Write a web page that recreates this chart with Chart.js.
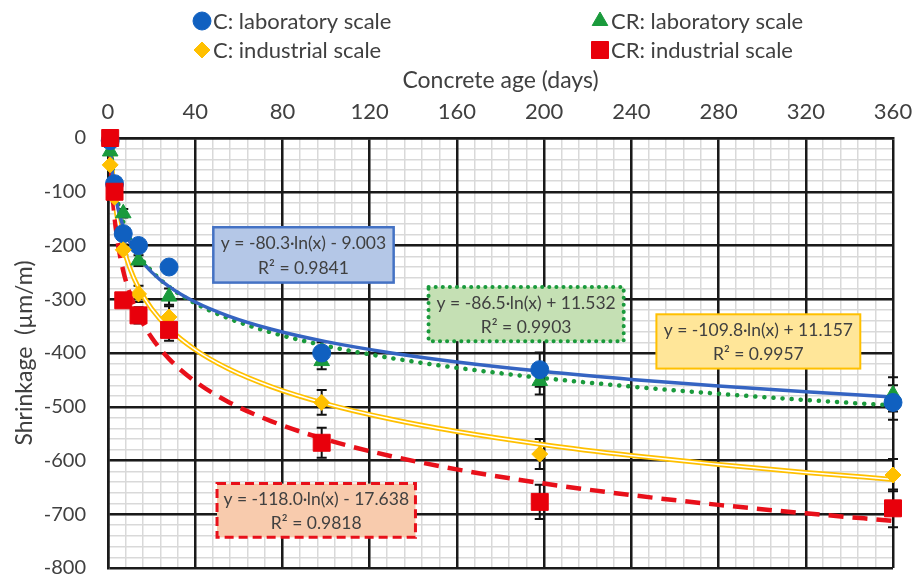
<!DOCTYPE html>
<html>
<head>
<meta charset="utf-8">
<script src="https://cdn.jsdelivr.net/npm/chart.js@4.4.0/dist/chart.umd.min.js"></script>
<style>
  html, body { margin: 0; padding: 0; background: #fff; }
  #wrap { width: 914px; height: 581px; }
</style>
</head>
<body>
<div id="wrap"><canvas id="shrinkChart"></canvas></div>
<script>
// ---- data ----
const ages = [1, 3, 7, 14, 28, 98, 198, 360];
const cLab = [-5, -85, -178, -200, -240, -400, -431, -492];
const cInd = [-50, -110, -208, -290, -333, -492, -588, -627];
const crLab = [-25, -95, -140, -228, -295, -415, -452, -477];
const crInd = [0, -100, -302, -330, -357, -567, -677, -689];

const cLabErr = [0, 0, 8, 8, 10, 20, 32, 32];
const cIndErr = [0, 0, 10, 15, 20, 23, 28, 30];
const crLabErr = [0, 0, 8, 10, 15, 15, 25, 32];
const crIndErr = [0, 0, 10, 15, 20, 28, 32, 35];

const seriesLabels = ['C: laboratory scale', 'C: industrial scale', 'CR: laboratory scale', 'CR: industrial scale'];

// logarithmic trend lines as printed on the chart: y = a*ln(x) + b
const fitSlope = [-80.3, -109.8, -86.5, -118.0];
const fitIntercept = [-9.003, 11.157, 11.532, -17.638];
const fitR2 = ['0.9841', '0.9957', '0.9903', '0.9818'];
const trendAges = [1, 1.5, 2, 3, 4, 5, 7, 10, 14, 20, 28, 40, 55, 75, 100, 130, 160, 200, 240, 280, 320, 360];

const xTickStep = 40, xMinorStep = 8;
const yTickStep = 100, yMinorStep = 20;

// ---- helpers ----
const FONT = 'Lato, "Open Sans", sans-serif';
const TXT = '#404040';

function pts(ys) { return ages.map((x, i) => ({ x: x, y: ys[i] })); }
function trend(k) {
  return trendAges.map(x => ({ x: x, y: fitSlope[k] * Math.log(x) + fitIntercept[k] }));
}
function equation(k) {
  const b = fitIntercept[k];
  return 'y = ' + fitSlope[k].toFixed(1) + '\u00b7ln(x) ' + (b < 0 ? '- ' : '+ ') + Math.abs(b).toFixed(3);
}

// order: lower number is painted later (on top)
const markerSets = [
  { label: seriesLabels[0], data: pts(cLab), err: cLabErr, color: '#1060c0', style: 'circle', radius: 9, order: 2 },
  { label: seriesLabels[1], data: pts(cInd), err: cIndErr, color: '#ffc000', style: 'rectRot', radius: 8, order: 1 },
  { label: seriesLabels[2], data: pts(crLab), err: crLabErr, color: '#1a9a3c', style: 'triangle', radius: 9, order: 3 },
  { label: seriesLabels[3], data: pts(crInd), err: crIndErr, color: '#e8000b', style: 'rect', radius: 12, order: 0 }
];

const datasets = markerSets.map(s => ({
  label: s.label,
  data: s.data,
  err: s.err,
  pointStyle: s.style,
  pointRadius: s.radius,
  pointHoverRadius: s.radius,
  pointBackgroundColor: s.color,
  pointBorderColor: s.color,
  pointBorderWidth: 1,
  showLine: false,
  clip: false,
  order: s.order
}));

const lineBase = { showLine: true, pointRadius: 0, pointHoverRadius: 0, fill: false, cubicInterpolationMode: 'monotone', order: 5 };
datasets.push(Object.assign({}, lineBase, { label: 'fit C lab', data: trend(0), borderColor: '#3564c2', borderWidth: 3.5 }));
datasets.push(Object.assign({}, lineBase, { label: 'fit CR lab', data: trend(2), borderColor: '#1a9a3c', borderWidth: 4.5, borderDash: [0.1, 9], borderCapStyle: 'round' }));
datasets.push(Object.assign({}, lineBase, { label: 'fit C ind', data: trend(1), borderColor: '#ffc000', borderWidth: 5, order: 6 }));
datasets.push(Object.assign({}, lineBase, { label: 'fit C ind inner', data: trend(1), borderColor: '#ffffff', borderWidth: 1.5 }));
datasets.push(Object.assign({}, lineBase, { label: 'fit CR ind', data: trend(3), borderColor: '#e8101a', borderWidth: 4.5, borderDash: [15, 9] }));

// equation boxes, placed in data units
const boxes = [
  { k: 0, x0: 48.3, x1: 131, y0: -166, y1: -269, fill: '#b4c7e7', stroke: '#4472c4', width: 2.5, dash: [] },
  { k: 2, x0: 147, x1: 236.5, y0: -277, y1: -378, fill: '#c5e0b4', stroke: '#1a9a3c', width: 4, dash: [0.1, 7], cap: 'round' },
  { k: 1, x0: 251.5, x1: 345, y0: -328, y1: -429, fill: '#ffe699', stroke: '#ffc000', width: 2, dash: [] },
  { k: 3, x0: 50, x1: 141, y0: -643, y1: -743, fill: '#f8cbad', stroke: '#e8101a', width: 3, dash: [9, 5] }
];

const errorBars = {
  id: 'errorBars',
  beforeDatasetsDraw(chart) {
    const ctx = chart.ctx, xs = chart.scales.x, ys = chart.scales.y;
    ctx.save();
    ctx.strokeStyle = '#111';
    ctx.lineWidth = 2;
    chart.data.datasets.forEach(ds => {
      if (!ds.err) return;
      ds.data.forEach((p, i) => {
        const e = ds.err[i];
        if (!e) return;
        const px = xs.getPixelForValue(p.x);
        const top = ys.getPixelForValue(p.y + e), bot = ys.getPixelForValue(p.y - e);
        ctx.beginPath();
        ctx.moveTo(px, top); ctx.lineTo(px, bot);
        ctx.moveTo(px - 5, top); ctx.lineTo(px + 5, top);
        ctx.moveTo(px - 5, bot); ctx.lineTo(px + 5, bot);
        ctx.stroke();
      });
    });
    ctx.restore();
  }
};

const eqBoxes = {
  id: 'eqBoxes',
  afterDatasetsDraw(chart) {
    const ctx = chart.ctx, xs = chart.scales.x, ys = chart.scales.y;
    ctx.save();
    boxes.forEach(b => {
      const l = xs.getPixelForValue(b.x0), r = xs.getPixelForValue(b.x1);
      const t = ys.getPixelForValue(b.y0), bt = ys.getPixelForValue(b.y1);
      ctx.fillStyle = b.fill;
      ctx.fillRect(l, t, r - l, bt - t);
      ctx.strokeStyle = b.stroke;
      ctx.lineWidth = b.width;
      ctx.setLineDash(b.dash);
      ctx.lineCap = b.cap || 'butt';
      ctx.strokeRect(l, t, r - l, bt - t);
      ctx.setLineDash([]);
      ctx.fillStyle = TXT;
      ctx.font = '17.5px ' + FONT;
      ctx.textAlign = 'center';
      ctx.textBaseline = 'middle';
      const cx = (l + r) / 2, h = bt - t;
      ctx.fillText(equation(b.k), cx, t + h * 0.3);
      ctx.fillText('R\u00b2 = ' + fitR2[b.k], cx, t + h * 0.74);
    });
    ctx.restore();
  }
};

const legendSpots = [[0, 202, 21], [2, 600, 21], [1, 202, 50], [3, 600, 50]];
const cornerLegend = {
  id: 'cornerLegend',
  afterDraw(chart) {
    const ctx = chart.ctx;
    ctx.save();
    legendSpots.forEach(([k, x, y]) => {
      const s = markerSets[k];
      ctx.fillStyle = s.color;
      ctx.strokeStyle = s.color;
      Chart.helpers.drawPoint(ctx, { pointStyle: s.style, rotation: 0, radius: s.radius, borderWidth: 1 }, x, y);
      ctx.fillStyle = TXT;
      ctx.font = '22px ' + FONT;
      ctx.textAlign = 'left';
      ctx.textBaseline = 'middle';
      ctx.fillText(s.label, x + 11, y + 1);
    });
    ctx.restore();
  }
};

function noPad(s) { s.paddingLeft = 0; s.paddingRight = 0; s.paddingTop = 0; s.paddingBottom = 0; }

new Chart(document.getElementById('shrinkChart'), {
  type: 'scatter',
  data: { datasets: datasets },
  options: {
    responsive: true,
    maintainAspectRatio: false,
    animation: false,
    layout: { padding: { top: 62, left: 10, right: 21, bottom: 9 } },
    plugins: { legend: { display: false }, tooltip: { enabled: false } },
    scales: {
      x: {
        type: 'linear', position: 'top', min: 0, max: 360,
        ticks: { stepSize: xTickStep, color: TXT, font: { family: FONT, size: 22 }, padding: 13, maxRotation: 0 },
        grid: { color: '#1a1a1a', lineWidth: 2.5, drawTicks: false },
        border: { color: '#1a1a1a', width: 2.5 },
        title: { display: true, text: 'Concrete age (days)', color: TXT, font: { family: FONT, size: 23 }, padding: { top: 5, bottom: 0 } },
        afterFit(s) { s.height = 76; noPad(s); }
      },
      y: {
        type: 'linear', position: 'left', min: -800, max: 0,
        ticks: { stepSize: yTickStep, color: TXT, font: { family: FONT, size: 20 }, padding: 22 },
        grid: { color: '#1a1a1a', lineWidth: 2.5, drawTicks: false },
        border: { color: '#1a1a1a', width: 2.5 },
        title: { display: true, text: 'Shrinkage  (\u00b5m/m)', color: TXT, font: { family: FONT, size: 23 }, padding: { top: 1, bottom: 0 } },
        afterFit(s) { s.width = 98; noPad(s); }
      },
      xMinor: {
        type: 'linear', position: 'bottom', min: 0, max: 360,
        ticks: { display: false, stepSize: xMinorStep, autoSkip: false },
        grid: { color: '#d9d9d9', lineWidth: 1.5, drawTicks: false, z: -2 },
        border: { display: false },
        afterFit(s) { s.height = 0; noPad(s); }
      },
      yMinor: {
        type: 'linear', position: 'right', min: -800, max: 0,
        ticks: { display: false, stepSize: yMinorStep, autoSkip: false },
        grid: { color: '#d9d9d9', lineWidth: 1.5, drawTicks: false, z: -2 },
        border: { display: false },
        afterFit(s) { s.width = 0; noPad(s); }
      }
    }
  },
  plugins: [errorBars, eqBoxes, cornerLegend]
});
</script>
</body>
</html>
